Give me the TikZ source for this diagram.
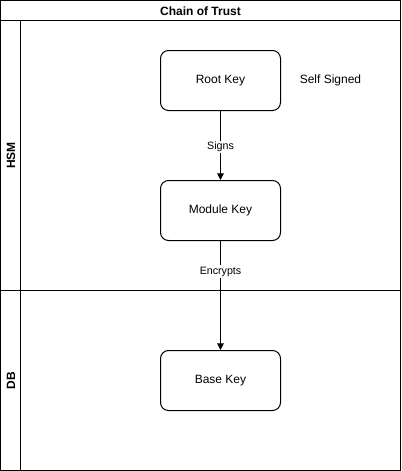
\documentclass[tikz,border=0pt]{standalone}
\usepackage{fontspec}
\setmainfont{Liberation Sans}
\usetikzlibrary{positioning, arrows.meta}

\tikzset{
  keybox/.style={draw, rounded corners=6pt, minimum width=90pt, minimum height=45pt, font=\fontsize{9}{11}\selectfont},
  lanelabel/.style={rotate=90, font=\bfseries\fontsize{9}{11}\selectfont},
  edgelabel/.style={fill=white, inner sep=1pt, font=\fontsize{8}{10}\selectfont}
}

\begin{document}
\begin{tikzpicture}[x=0.75pt, y=-0.75pt, line width=0.75pt, >={Triangle[length=5pt, width=5pt]}]
\useasboundingbox (0,0) rectangle (401,471);
% pool and lanes
\draw (0.5,0.5) rectangle (400.5,470.5);
\draw (0.5,20.5) -- (400.5,20.5);
\draw (20.5,20.5) -- (20.5,470.5);
\draw (0.5,290.5) -- (400.5,290.5);
\node[font=\bfseries\fontsize{9}{11}\selectfont] (title) at (200.5,11) {Chain of Trust};
\node[lanelabel] (hsm) at (11,155.5) {HSM};
\node[lanelabel] (db) at (11,380.5) {DB};

% keys
\node[keybox] (root) at (220.5,80.5) {Root Key};
\node[keybox] (module) at (220.5,210.5) {Module Key};
\node[keybox] (base) at (220.5,380.5) {Base Key};
\node[font=\fontsize{9}{11}\selectfont] (self) at (330.5,80.5) {Self Signed};

\draw[->] (root) -- node[edgelabel, pos=0.52] {Signs} (module);
\draw[->] (module) -- node[edgelabel, pos=0.28] {Encrypts} (base);
\end{tikzpicture}
\end{document}
